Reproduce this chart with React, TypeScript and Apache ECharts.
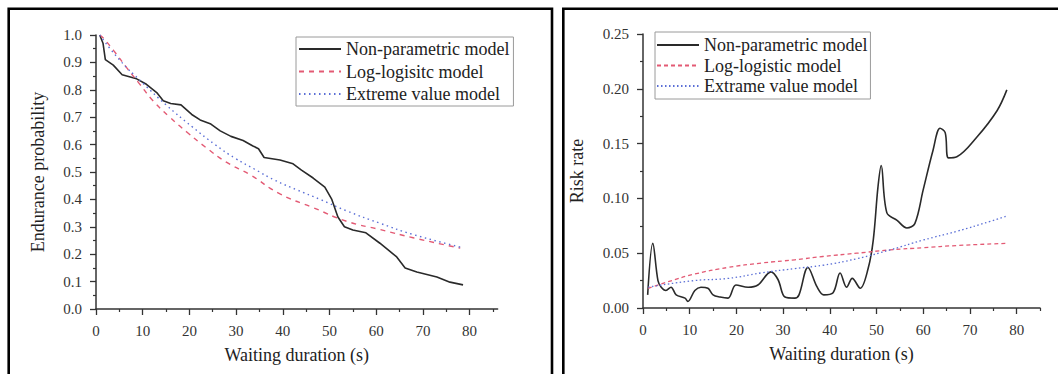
import React, { useEffect, useRef } from "react";
import * as echarts from "echarts";

// ---------- Left panel: endurance probability ----------
const leftNpX = [0.8, 1.5, 2.0, 3.7, 5.6, 8.7, 10.8, 13.0, 14.4, 16.0, 18.2, 20.5, 22.3, 24.6, 26.6, 28.9, 31.5, 33.6, 34.8, 36.0, 39.4, 42.2, 44.0, 46.5, 49.0, 50.5, 51.8, 53.2, 55.0, 57.8, 60.8, 64.4, 66.2, 68.7, 73.0, 75.8, 78.6];
const leftNpY = [1.0, 0.97, 0.91, 0.89, 0.855, 0.84, 0.82, 0.79, 0.76, 0.75, 0.745, 0.71, 0.69, 0.675, 0.65, 0.63, 0.615, 0.595, 0.585, 0.553, 0.544, 0.53, 0.507, 0.478, 0.445, 0.40, 0.336, 0.30, 0.288, 0.278, 0.24, 0.19, 0.15, 0.135, 0.117, 0.098, 0.088];

const leftLlX = [0.8, 1.5, 3.7, 6.6, 9.4, 12.2, 15.8, 19.5, 23.5, 28.0, 33.0, 39.4, 46.5, 53.7, 60.8, 67.9, 78.0];
const leftLlY = [1.0, 0.99, 0.945, 0.88, 0.82, 0.76, 0.70, 0.645, 0.59, 0.535, 0.49, 0.42, 0.37, 0.32, 0.29, 0.26, 0.222];

const leftEvX = [0.8, 5.0, 10.0, 15.0, 20.6, 25.5, 29.8, 34.0, 38.3, 43.0, 48.0, 53.7, 60.8, 67.9, 78.0];
const leftEvY = [1.0, 0.91, 0.825, 0.745, 0.665, 0.60, 0.55, 0.51, 0.47, 0.435, 0.40, 0.358, 0.313, 0.272, 0.226];

// ---------- Right panel: risk rate ----------
const rightNpX = [1.0, 2.1, 3.2, 3.9, 4.9, 6.0, 7.1, 9.0, 9.6, 11.1, 12.4, 13.9, 15.0, 16.5, 18.2, 19.9, 22.5, 24.6, 27.4, 28.9, 30.4, 32.5, 33.4, 35.3, 37.3, 38.7, 40.7, 42.2, 43.6, 44.8, 46.5, 48.2, 49.3, 50.3, 51.0, 52.2, 54.4, 56.5, 58.2, 60.0, 62.1, 63.6, 64.7, 65.4, 67.2, 71.5, 75.8, 77.9];
const rightNpY = [0.012, 0.059, 0.025, 0.019, 0.016, 0.019, 0.012, 0.009, 0.006, 0.016, 0.019, 0.018, 0.012, 0.010, 0.009, 0.021, 0.019, 0.021, 0.033, 0.026, 0.010, 0.009, 0.012, 0.037, 0.019, 0.012, 0.014, 0.032, 0.019, 0.027, 0.018, 0.036, 0.062, 0.11, 0.13, 0.087, 0.08, 0.073, 0.077, 0.108, 0.144, 0.164, 0.16, 0.137, 0.138, 0.156, 0.18, 0.199];

const rightLlX = [1.1, 5.4, 11.1, 18.2, 25.3, 32.5, 38.5, 45.8, 52.9, 60.0, 67.2, 77.9];
const rightLlY = [0.018, 0.024, 0.031, 0.037, 0.041, 0.044, 0.047, 0.050, 0.053, 0.055, 0.057, 0.059];

const rightEvX = [1.1, 11.0, 18.2, 25.3, 32.5, 38.5, 45.8, 52.9, 60.0, 67.2, 74.3, 77.9];
const rightEvY = [0.019, 0.025, 0.027, 0.032, 0.036, 0.039, 0.045, 0.053, 0.062, 0.070, 0.079, 0.084];

// ---------- Ticks / labels ----------
const xMajorTicks = [0, 10, 20, 30, 40, 50, 60, 70, 80];
const xMinorTicks = [5, 15, 25, 35, 45, 55, 65, 75, 85];
const leftLegendNames = ["Non-parametric model", "Log-logisitc model", "Extreme value model"];
const rightLegendNames = ["Non-parametric model", "Log-logistic model", "Extrame value model"];

const FONT = "'Liberation Serif', 'Times New Roman', serif";
const AX = "#333";
const BLACK = "#2a2a2a";
const RED = "#e35a74";
const BLUE = "#5b6fd6";

const zip = (xs: number[], ys: number[]) => xs.map((x, i) => [x, ys[i]]);

function mainX(gridIndex: number, max: number) {
  return {
    type: "value",
    gridIndex,
    min: 0,
    max,
    interval: 10,
    name: "Waiting duration (s)",
    nameLocation: "middle",
    nameGap: 37,
    nameTextStyle: { fontFamily: FONT, fontSize: 18, color: "#222" },
    axisLine: { show: true, onZero: false, lineStyle: { color: AX, width: 1.5 } },
    axisTick: { show: true, customValues: xMajorTicks, length: 6, lineStyle: { color: AX, width: 1.3 } },
    axisLabel: { customValues: xMajorTicks, margin: 14, fontFamily: FONT, fontSize: 15, color: "#333" },
    splitLine: { show: false },
  };
}

function minorX(gridIndex: number, max: number) {
  return {
    type: "value",
    gridIndex,
    min: 0,
    max,
    interval: 10,
    position: "bottom",
    axisLine: { show: false, onZero: false },
    axisTick: { show: true, customValues: xMinorTicks, length: 3, lineStyle: { color: AX, width: 1.2 } },
    axisLabel: { show: false },
    splitLine: { show: false },
  };
}

function lineSeries(name: string, data: number[][], xi: number, yi: number, color: string, type: any, smooth: any, width: number) {
  return {
    type: "line",
    name,
    xAxisIndex: xi,
    yAxisIndex: yi,
    data,
    symbol: "none",
    smooth,
    lineStyle: { color, width, type },
    itemStyle: { color },
    z: 3,
  };
}

function legend(names: string[], left: number, top: number, lineHeight: number, gap: number, pad: number[]) {
  return {
    orient: "vertical",
    left,
    top,
    data: names,
    itemWidth: 42,
    itemHeight: lineHeight,
    itemGap: gap,
    padding: pad,
    borderColor: "#9a9a9a",
    borderWidth: 1,
    selectedMode: false,
    itemStyle: { opacity: 0, borderWidth: 0 },
    textStyle: { fontFamily: FONT, fontSize: 18, color: "#222", lineHeight },
  };
}

export default function App() {
  const ref = useRef<HTMLDivElement>(null);
  useEffect(() => {
    if (!ref.current) return;
    const chart = echarts.init(ref.current, null, { renderer: "svg" });
    const option: any = {
      animation: false,
      backgroundColor: "#ffffff",
      grid: [
        { left: 96, top: 35, width: 401.6, height: 274 },
        { left: 643, top: 34, width: 397, height: 274 },
      ],
      xAxis: [mainX(0, 86), minorX(0, 86), mainX(1, 85), minorX(1, 85)],
      yAxis: [
        {
          type: "value",
          gridIndex: 0,
          min: 0,
          max: 1,
          interval: 0.1,
          name: "Endurance probability",
          nameLocation: "middle",
          nameGap: 49,
          nameTextStyle: { fontFamily: FONT, fontSize: 18, color: "#222" },
          axisLine: { show: true, onZero: false, lineStyle: { color: AX, width: 1.5 } },
          axisTick: { show: true, length: 6, lineStyle: { color: AX, width: 1.3 } },
          minorTick: { show: true, splitNumber: 2, length: 3, lineStyle: { color: AX, width: 1.2 } },
          axisLabel: { margin: 14, fontFamily: FONT, fontSize: 15, color: "#333", formatter: (v: number) => v.toFixed(1) },
          splitLine: { show: false },
        },
        {
          type: "value",
          gridIndex: 1,
          min: 0,
          max: 0.25,
          interval: 0.05,
          name: "Risk rate",
          nameLocation: "middle",
          nameGap: 57,
          nameTextStyle: { fontFamily: FONT, fontSize: 18, color: "#222" },
          axisLine: { show: true, onZero: false, lineStyle: { color: AX, width: 1.5 } },
          axisTick: { show: true, length: 6, lineStyle: { color: AX, width: 1.3 } },
          minorTick: { show: true, splitNumber: 2, length: 3, lineStyle: { color: AX, width: 1.2 } },
          axisLabel: { margin: 14, fontFamily: FONT, fontSize: 15, color: "#333", formatter: (v: number) => v.toFixed(2) },
          splitLine: { show: false },
        },
      ],
      legend: [
        legend(leftLegendNames, 296, 37, 21, 1.5, [1.5, 4, 1.5, 2]),
        legend(rightLegendNames, 655, 32, 20, 0.5, [3, 3, 3, 1]),
      ],
      graphic: [
        { type: "rect", shape: { x: 8.7, y: 8.7, width: 543.3, height: 380 }, style: { fill: "none", stroke: "#000", lineWidth: 2.6 }, z: 10 },
        { type: "rect", shape: { x: 563.3, y: 8.7, width: 510, height: 380 }, style: { fill: "none", stroke: "#000", lineWidth: 2.6 }, z: 10 },
      ],
      series: [
        lineSeries(leftLegendNames[0], zip(leftNpX, leftNpY), 0, 0, BLACK, "solid", false, 1.6),
        lineSeries(leftLegendNames[1], zip(leftLlX, leftLlY), 0, 0, RED, [5, 5], true, 1.4),
        lineSeries(leftLegendNames[2], zip(leftEvX, leftEvY), 0, 0, BLUE, [1.5, 3.5], true, 1.4),
        lineSeries(rightLegendNames[0], zip(rightNpX, rightNpY), 2, 1, BLACK, "solid", 0.35, 1.6),
        lineSeries(rightLegendNames[1], zip(rightLlX, rightLlY), 2, 1, RED, [4, 3], true, 1.3),
        lineSeries(rightLegendNames[2], zip(rightEvX, rightEvY), 2, 1, BLUE, [1.5, 2.5], true, 1.3),
      ],
    };
    chart.setOption(option);
    return () => chart.dispose();
  }, []);
  return (
    <div
      ref={ref}
      style={{ position: "fixed", left: 0, top: 0, width: 1058, height: 374, background: "#fff" }}
    />
  );
}
